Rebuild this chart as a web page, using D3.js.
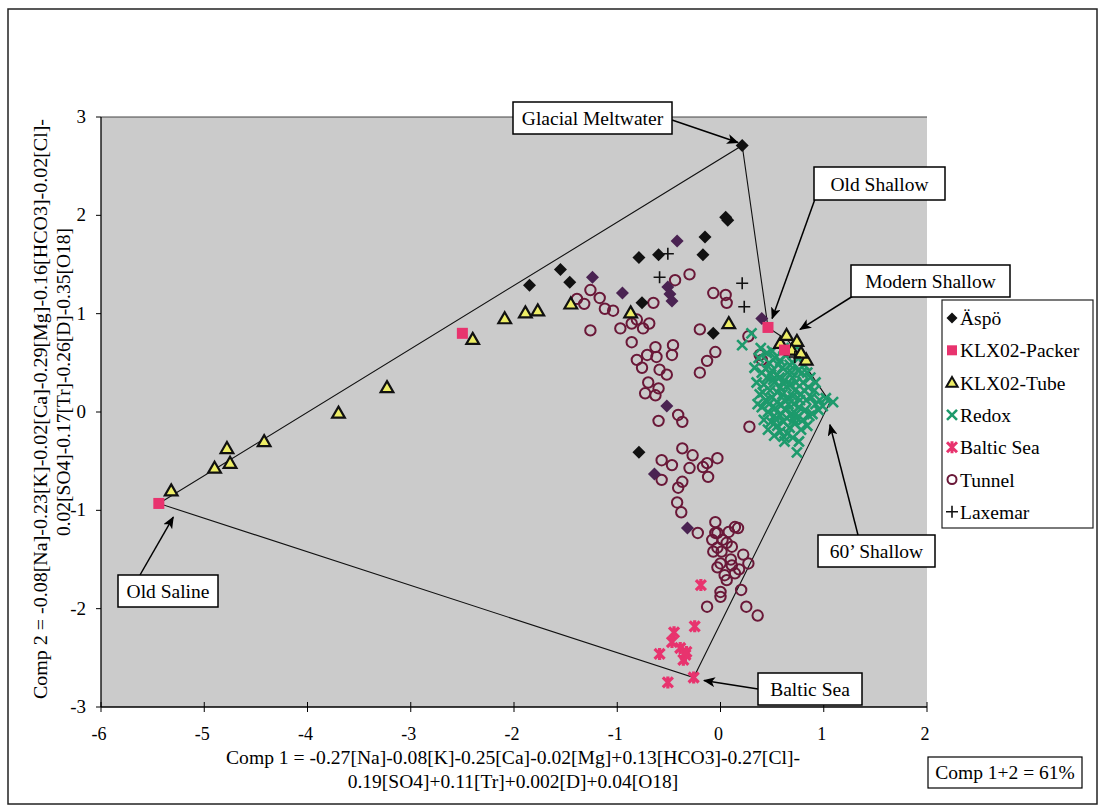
<!DOCTYPE html>
<html><head><meta charset="utf-8">
<script src="https://cdn.jsdelivr.net/npm/d3@7"></script>
<style>body{margin:0;background:#fff}svg{display:block}</style>
</head><body><svg id="c" width="1105" height="811" font-family="'Liberation Serif', 'Times New Roman', 'DejaVu Serif', serif"></svg>
<script>
const xTicks=[-6,-5,-4,-3,-2,-1,0,1,2];
const yTicks=[-3,-2,-1,0,1,2,3];
const aspo=[[0.21,2.71],[0.05,1.98],[0.07,1.95],[-0.15,1.78],[-0.17,1.60],[-0.60,1.60],[-0.79,1.57],[-1.55,1.45],[-1.46,1.32],[-1.85,1.29],[-0.76,1.11],[-0.07,0.80],[-0.79,-0.41]];
const aspoDark=[[-0.42,1.74],[-0.95,1.21],[-1.24,1.37],[-0.51,1.27],[-0.49,1.20],[-0.47,1.13],[-0.52,0.06],[-0.64,-0.63],[-0.32,-1.18],[0.40,0.95]];
const packer=[[-5.44,-0.93],[-2.50,0.80],[0.46,0.86],[0.62,0.63]];
const tube=[[-5.32,-0.80],[-4.90,-0.57],[-4.75,-0.52],[-4.78,-0.37],[-4.42,-0.30],[-3.70,-0.01],[-3.23,0.25],[-2.40,0.74],[-2.09,0.95],[-1.89,1.01],[-1.77,1.03],[-1.45,1.10],[-0.87,1.01],[0.08,0.90],[0.58,0.70],[0.64,0.78],[0.74,0.72],[0.83,0.53],[0.69,0.63],[0.78,0.60]];
const redox=[[0.21,0.68],[0.30,0.80],[1.09,0.10],[0.61,-0.25],[0.74,-0.41],
[0.40,0.40],[0.45,0.35],[0.50,0.42],[0.55,0.38],[0.60,0.45],[0.65,0.40],[0.70,0.35],[0.75,0.42],[0.80,0.30],[0.85,0.25],
[0.42,0.28],[0.48,0.22],[0.52,0.30],[0.58,0.25],[0.62,0.32],[0.68,0.28],[0.72,0.22],[0.78,0.18],[0.83,0.12],[0.88,0.15],
[0.38,0.18],[0.44,0.12],[0.50,0.15],[0.55,0.10],[0.60,0.18],[0.66,0.14],[0.71,0.08],[0.76,0.05],[0.82,0.02],[0.92,0.08],
[0.40,0.05],[0.46,0.00],[0.53,0.04],[0.57,-0.03],[0.63,0.02],[0.69,-0.02],[0.74,-0.06],[0.80,-0.08],[0.86,-0.04],[0.96,0.12],
[0.42,-0.08],[0.49,-0.10],[0.55,-0.14],[0.61,-0.10],[0.67,-0.16],[0.72,-0.12],[0.78,-0.18],[0.84,-0.14],[0.65,-0.22],[0.58,-0.20],
[0.35,0.30],[0.33,0.45],[0.37,0.55],[0.47,0.50],[0.53,0.55],[0.58,0.52],[0.63,0.58],[0.70,0.50],[0.76,0.55],[0.68,0.62],
[0.44,0.44],[0.51,0.33],[0.57,0.35],[0.64,0.26],[0.69,0.40],[0.73,0.30],[0.79,0.40],[0.87,0.35],[0.91,0.22],[0.95,0.02],
[0.36,0.08],[0.41,0.20],[0.47,0.08],[0.52,-0.04],[0.59,0.07],[0.64,-0.06],[0.70,0.16],[0.77,0.12],[0.81,0.22],[0.89,-0.02],
[0.46,-0.18],[0.52,-0.24],[0.62,-0.30],[0.70,-0.26],[0.76,-0.30],[0.55,0.20],[0.60,0.30],[0.66,0.08],[0.73,-0.02],[0.49,0.38],
[0.56,0.48],[0.62,0.12],[0.67,0.48],[0.54,-0.08],[0.71,-0.08],[0.45,0.60],[0.81,0.48],[0.84,0.40],[0.92,0.30],[0.99,0.06],
[1.02,0.14],[0.39,0.65],[0.61,0.65],[0.50,0.62],[0.74,0.66]];
const baltic=[[-0.19,-1.76],[-0.25,-2.18],[-0.45,-2.24],[-0.47,-2.34],[-0.59,-2.46],[-0.39,-2.40],[-0.34,-2.47],[-0.36,-2.52],[-0.51,-2.75],[-0.26,-2.70],[-0.33,-2.44]];
const tunnel=[[-1.39,1.15],[-1.26,1.24],[-1.17,1.16],[-1.12,1.05],[-1.04,1.03],[-1.26,0.83],[-0.97,0.85],[-0.86,0.90],[-0.81,0.94],[-0.30,1.40],[-0.44,1.34],[-0.65,1.11],[-0.07,1.21],[0.05,1.19],[0.06,1.11],[-1.32,1.10],[-0.75,0.85],[-0.69,0.90],[-0.86,0.71],[-0.20,0.84],[0.27,0.77],[0.38,0.58],[0.40,0.53],[-0.05,0.61],[-0.13,0.52],[-0.20,0.40],[-0.63,0.66],[-0.46,0.68],[-0.47,0.58],[-0.81,0.53],[-0.71,0.58],[-0.62,0.56],[-0.76,0.45],[-0.59,0.43],[-0.52,0.38],[-0.70,0.30],[-0.73,0.19],[-0.63,0.17],[-0.60,0.24],[-0.41,-0.03],[-0.37,-0.10],[-0.60,-0.09],[0.28,-0.15],[-0.37,-0.37],[-0.27,-0.44],[-0.57,-0.49],[-0.47,-0.54],[-0.30,-0.57],[-0.13,-0.52],[-0.03,-0.47],[-0.57,-0.69],[-0.41,-0.77],[-0.37,-0.71],[-0.42,-0.92],[-0.38,-1.02],[-0.17,-0.56],[-0.12,-0.66],[-0.22,-1.23],[-0.05,-1.12],[-0.05,-1.23],[-0.03,-1.38],[-0.03,-1.58],[0.14,-1.17],[0.17,-1.18],[-0.03,-1.23],[0.06,-1.33],[-0.07,-1.42],[0.01,-1.42],[0.11,-1.37],[0.22,-1.45],[0.27,-1.54],[0.00,-1.54],[0.11,-1.56],[0.14,-1.64],[0.04,-1.66],[0.06,-1.71],[0.00,-1.83],[0.00,-1.88],[0.20,-1.81],[-0.13,-1.98],[0.25,-1.98],[0.36,-2.07],[-0.08,-1.30],[0.08,-1.22],[0.10,-1.50],[0.18,-1.60],[0.02,-1.30]];
const laxemar=[[-0.51,1.61],[-0.59,1.37],[0.21,1.31],[0.23,1.07],[0.72,0.56]];
// mixing polygon end-members
const polygon=[[-5.44,-0.93],[0.21,2.71],[0.46,0.86],[0.66,0.72],[1.06,0.10],[-0.26,-2.70]];
const legendNames=["Äspö","KLX02-Packer","KLX02-Tube","Redox","Baltic Sea","Tunnel","Laxemar"];

const svg=d3.select("#c");
const x=d3.scaleLinear().domain([-6,2]).range([101,927]);
const y=d3.scaleLinear().domain([-3,3]).range([707,117]);
const FS="19.5px";

// outer frame
svg.append("rect").attr("x",8).attr("y",9).attr("width",1089).attr("height",795).attr("fill","#fff").attr("stroke","#222").attr("stroke-width",1.5);
// plot background
svg.append("rect").attr("x",x(-6)).attr("y",y(3)).attr("width",x(2)-x(-6)).attr("height",y(-3)-y(3)).attr("fill","#cbcbcb");
svg.append("line").attr("x1",x(-6)).attr("x2",x(2)).attr("y1",y(3)).attr("y2",y(3)).attr("stroke","#444").attr("stroke-width",1);

// axes
const gx=svg.append("g").attr("transform",`translate(0,${y(-3)})`);
gx.append("line").attr("x1",x(-6)).attr("x2",x(2)).attr("stroke","#000").attr("stroke-width",1.3);
gx.selectAll("line.t").data(xTicks).join("line").attr("class","t").attr("x1",d=>x(d)).attr("x2",d=>x(d)).attr("y1",-5).attr("y2",5).attr("stroke","#000");
gx.selectAll("text").data(xTicks).join("text").attr("x",d=>x(d)-2).attr("y",33).attr("text-anchor","middle").style("font-size","18px").text(d=>d);
const gy=svg.append("g").attr("transform",`translate(${x(-6)},0)`);
gy.append("line").attr("y1",y(-3)).attr("y2",y(3)).attr("stroke","#000").attr("stroke-width",1.3);
gy.selectAll("line.t").data(yTicks).join("line").attr("class","t").attr("y1",d=>y(d)).attr("y2",d=>y(d)).attr("x1",-5).attr("x2",0).attr("stroke","#000");
gy.selectAll("text").data(yTicks).join("text").attr("x",-15).attr("y",d=>y(d)+6).attr("text-anchor","end").style("font-size","19px").text(d=>d);

// axis titles
svg.append("text").attr("x",513).attr("y",764).attr("text-anchor","middle").style("font-size",FS).attr("textLength",574).attr("lengthAdjust","spacingAndGlyphs").text("Comp 1 = -0.27[Na]-0.08[K]-0.25[Ca]-0.02[Mg]+0.13[HCO3]-0.27[Cl]-");
svg.append("text").attr("x",513).attr("y",788).attr("text-anchor","middle").style("font-size",FS).text("0.19[SO4]+0.11[Tr]+0.002[D]+0.04[O18]");
svg.append("text").attr("transform","translate(47,409) rotate(-90)").attr("text-anchor","middle").style("font-size",FS).attr("textLength",580).attr("lengthAdjust","spacingAndGlyphs").text("Comp 2 = -0.08[Na]-0.23[K]-0.02[Ca]-0.29[Mg]-0.16[HCO3]-0.02[Cl]-");
svg.append("text").attr("transform","translate(70,382) rotate(-90)").attr("text-anchor","middle").style("font-size",FS).text("0.02[SO4]-0.17[Tr]-0.26[D]-0.35[O18]");

// mixing polygon
svg.append("path").attr("d",d3.line().x(d=>x(d[0])).y(d=>y(d[1]))(polygon)+"Z").attr("fill","none").attr("stroke","#111").attr("stroke-width",1.1);

const plot=svg.append("g");
const diamond=s=>`M0,${-s}L${s},0L0,${s}L${-s},0Z`;
const tri=d3.symbol().type(d3.symbolTriangle).size(70)();
// Tunnel
plot.selectAll("circle.tun").data(tunnel).join("circle").attr("class","tun").attr("cx",d=>x(d[0])).attr("cy",d=>y(d[1])).attr("r",5.2).attr("fill","none").attr("stroke","#6a1838").attr("stroke-width",2);
// Redox
plot.selectAll("path.rx").data(redox).join("path").attr("class","rx").attr("transform",d=>`translate(${x(d[0])},${y(d[1])})`).attr("d","M-5,-5L5,5M-5,5L5,-5").attr("stroke","#1d9a6c").attr("stroke-width",2.6).attr("fill","none");
// Äspö
plot.selectAll("path.as").data(aspo).join("path").attr("class","as").attr("transform",d=>`translate(${x(d[0])},${y(d[1])})`).attr("d",diamond(6.5)).attr("fill","#111");
plot.selectAll("path.ad").data(aspoDark).join("path").attr("class","ad").attr("transform",d=>`translate(${x(d[0])},${y(d[1])})`).attr("d",diamond(6.5)).attr("fill","#4a2352");
// Tube
plot.selectAll("path.tb").data(tube).join("path").attr("class","tb").attr("transform",d=>`translate(${x(d[0])},${y(d[1])+1})`).attr("d",tri).attr("fill","#eeee66").attr("stroke","#111").attr("stroke-width",2.2);
// Packer
plot.selectAll("rect.pk").data(packer).join("rect").attr("class","pk").attr("x",d=>x(d[0])-5.5).attr("y",d=>y(d[1])-5.5).attr("width",11).attr("height",11).attr("fill","#e8336e");
// Baltic
plot.selectAll("path.bs").data(baltic).join("path").attr("class","bs").attr("transform",d=>`translate(${x(d[0])},${y(d[1])})`).attr("d","M-5,-5L5,5M-5,5L5,-5M0,-6L0,6").attr("stroke","#e8336e").attr("stroke-width",3.2).attr("fill","none");
// Laxemar
plot.selectAll("path.lx").data(laxemar).join("path").attr("class","lx").attr("transform",d=>`translate(${x(d[0])},${y(d[1])})`).attr("d","M-6,0L6,0M0,-6L0,6").attr("stroke","#111").attr("stroke-width",1.6);

// annotations
svg.append("defs").append("marker").attr("id","ah").attr("viewBox","0 0 12 10").attr("refX",11).attr("refY",5).attr("markerWidth",12).attr("markerHeight",10).attr("markerUnits","userSpaceOnUse").attr("orient","auto").append("path").attr("d","M0,0L12,5L0,10L3,5Z").attr("fill","#000");
const ann=[
 {t:"Glacial Meltwater",bx:513,by:102,bw:159,bh:32,sx:672,sy:120,p:[0.17,2.74]},
 {t:"Old Shallow",bx:814,by:167,bw:131,bh:33,sx:815,sy:199,p:[0.50,0.95]},
 {t:"Modern Shallow",bx:851,by:265,bw:159,bh:32,sx:853,sy:296,p:[0.77,0.84]},
 {t:"60’ Shallow",bx:818,by:535,bw:117,bh:32,sx:858,sy:535,p:[1.06,-0.13]},
 {t:"Old Saline",bx:118,by:575,bw:100,bh:32,sx:140,sy:575,p:[-5.30,-1.07]},
 {t:"Baltic Sea",bx:758,by:673,bw:104,bh:32,sx:758,sy:689,p:[-0.16,-2.73]}
];
ann.forEach(a=>{
  svg.append("line").attr("x1",a.sx).attr("y1",a.sy).attr("x2",x(a.p[0])).attr("y2",y(a.p[1])).attr("stroke","#000").attr("stroke-width",1.5).attr("marker-end","url(#ah)");
  svg.append("rect").attr("x",a.bx).attr("y",a.by).attr("width",a.bw).attr("height",a.bh).attr("fill","#fff").attr("stroke","#000").attr("stroke-width",1.5);
  svg.append("text").attr("x",a.bx+a.bw/2).attr("y",a.by+a.bh/2+7).attr("text-anchor","middle").style("font-size","19.5px").text(a.t);
});
svg.append("rect").attr("x",928).attr("y",757).attr("width",154).attr("height",31).attr("fill","#fff").attr("stroke","#000").attr("stroke-width",1.2);
svg.append("text").attr("x",1005).attr("y",779).attr("text-anchor","middle").style("font-size","19.5px").text("Comp 1+2 = 61%");

// legend
const lg=svg.append("g").attr("transform","translate(942,300)");
lg.append("rect").attr("width",151).attr("height",228).attr("fill","#fff").attr("stroke","#222").attr("stroke-width",1.2);
const ly=i=>18+i*32.3;
lg.selectAll("text").data(legendNames).join("text").attr("x",18).attr("y",(d,i)=>ly(i)+7).style("font-size","19.5px").text(d=>d);
const mk=lg.append("g").attr("transform","translate(10,0)");
mk.append("path").attr("transform",`translate(0,${ly(0)})`).attr("d",diamond(5.5)).attr("fill","#111");
mk.append("rect").attr("x",-5).attr("y",ly(1)-5).attr("width",10).attr("height",10).attr("fill","#e8336e");
mk.append("path").attr("transform",`translate(0,${ly(2)+1})`).attr("d",d3.symbol().type(d3.symbolTriangle).size(55)()).attr("fill","#eeee66").attr("stroke","#111").attr("stroke-width",2);
mk.append("path").attr("transform",`translate(0,${ly(3)})`).attr("d","M-5,-5L5,5M-5,5L5,-5").attr("stroke","#1d9a6c").attr("stroke-width",2.6);
mk.append("path").attr("transform",`translate(0,${ly(4)})`).attr("d","M-5,-5L5,5M-5,5L5,-5M0,-6L0,6").attr("stroke","#e8336e").attr("stroke-width",3);
mk.append("circle").attr("cy",ly(5)).attr("r",4.5).attr("fill","none").attr("stroke","#6a1838").attr("stroke-width",2);
mk.append("path").attr("transform",`translate(0,${ly(6)})`).attr("d","M-6,0L6,0M0,-6L0,6").attr("stroke","#111").attr("stroke-width",1.6);
</script></body></html>
